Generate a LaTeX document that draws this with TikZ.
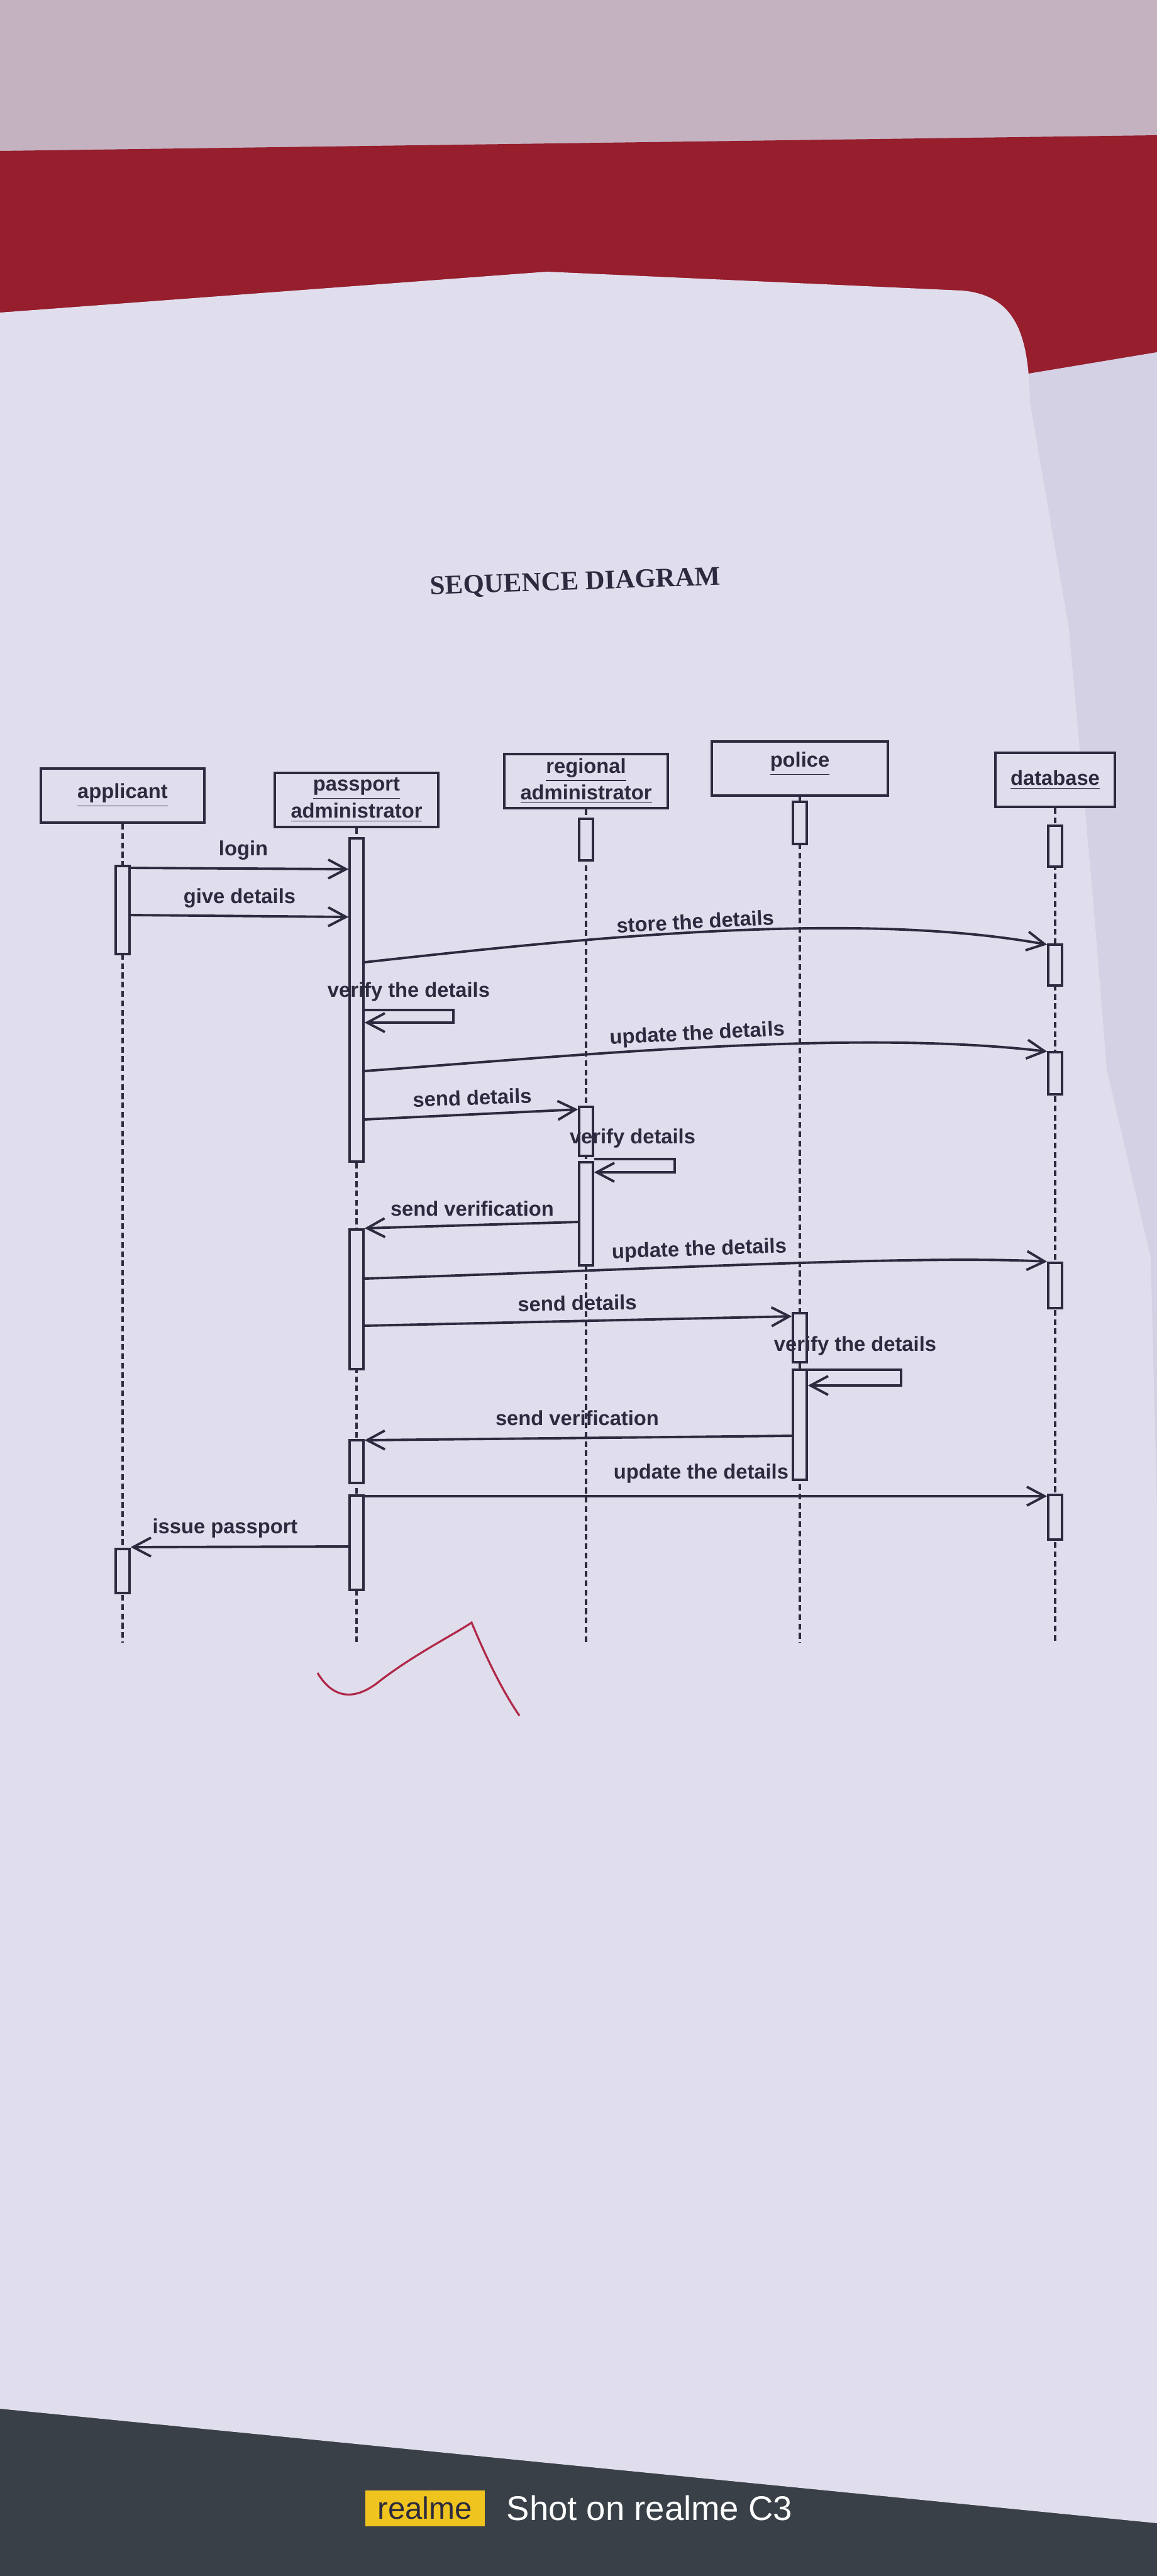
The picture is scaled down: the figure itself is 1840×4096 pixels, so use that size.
\documentclass[tikz,border=0pt]{standalone}
\usepackage{fontspec}
\setmainfont{Liberation Sans}
\newfontfamily\titlefont{Liberation Serif}
\usetikzlibrary{arrows.meta,fit}
\definecolor{paper}{RGB}{224,221,236}
\definecolor{sheet}{RGB}{212,209,228}
\definecolor{ink}{RGB}{44,42,62}
\definecolor{bag}{RGB}{150,30,45}
\definecolor{curtain}{RGB}{196,178,192}
\definecolor{floor}{RGB}{58,64,72}
\definecolor{pen}{RGB}{176,40,72}
\definecolor{realmey}{RGB}{240,196,30}
\newcommand{\actbar}[4]{\node[bar, fit={(#2-11,#3) (#2+11,#4)}] (#1) {};}

\begin{document}
\begin{tikzpicture}[x=0.01cm, y=-0.01cm,
    head/.style={draw=ink, line width=1.2pt, fill=paper, text=ink, minimum width=2.6cm,
      minimum height=0.86cm, align=center, inner sep=1pt, font=\bfseries\fontsize{9.3}{12}\selectfont},
    bar/.style={draw=ink, line width=1pt, fill=paper, inner sep=0pt},
    life/.style={draw=ink, line width=1pt, dash pattern=on 2.6pt off 1.6pt},
    msg/.style={draw=ink, line width=1.1pt, -{Straight Barb[length=8pt, width=8.5pt, line width=1.1pt]}},
    txt/.style={text=ink, inner sep=1pt, font=\bfseries\fontsize{9.3}{12}\selectfont},
    redpen/.style={draw=pen, line width=0.9pt}]
    \useasboundingbox (0,0) rectangle (1840,4096);
    \fill[curtain] (0,0) rectangle (1840,260);
    \fill[bag] (0,240) -- (1840,215) -- (1840,700) -- (0,700) -- cycle;
    \fill[sheet] (1600,600) -- (1840,560) -- (1840,2600) -- (1600,2600) -- cycle;
    \fill[floor] (0,3700) rectangle (1840,4096);
    \fill[paper] (0,497) -- (870,432) -- (1530,462) .. controls (1620,470) and (1636,540) .. (1638,640)
      -- (1700,1000) -- (1740,1450) -- (1760,1700) -- (1830,2000) -- (1840,2400)
      -- (1840,4012) -- (0,3830) -- cycle;

    \node[text=ink, font=\titlefont\bfseries\fontsize{12.2}{14}\selectfont, rotate=2] (title) at (915,927) {SEQUENCE DIAGRAM};

    \node[head] (app) at (195,1265) {\underline{applicant}};
    \node[head] (padm) at (567,1272) {\underline{passport}\\\underline{administrator}};
    \node[head] (radm) at (932,1242) {\underline{regional}\\\underline{administrator}};
    \node[head, minimum width=2.8cm] (pol) at (1272,1222) {\underline{police}\\[-4pt]\mbox{}};
    \node[head, minimum width=1.9cm] (db) at (1678,1240) {\underline{database}};
    \foreach \h in {app,padm,radm,pol,db}
      \draw[life] (\h.south) -- (\h.south |- 0,2612);

    \actbar{bA1}{195}{1377}{1517}
    \actbar{bA2}{195}{2463}{2533}
    \actbar{bP1}{567}{1333}{1847}
    \actbar{bP2}{567}{1955}{2177}
    \actbar{bP3}{567}{2290}{2358}
    \actbar{bP4}{567}{2378}{2528}
    \actbar{bR0}{932}{1302}{1368}
    \actbar{bR1}{932}{1760}{1838}
    \actbar{bR2}{932}{1848}{2012}
    \actbar{bL0}{1272}{1275}{1342}
    \actbar{bL1}{1272}{2088}{2166}
    \actbar{bL2}{1272}{2178}{2353}
    \actbar{bD0}{1678}{1313}{1378}
    \actbar{bD1}{1678}{1502}{1567}
    \actbar{bD2}{1678}{1673}{1740}
    \actbar{bD3}{1678}{2008}{2080}
    \actbar{bD4}{1678}{2377}{2448}

    \draw[msg] (bA1.east |- 0,1380) -- (bP1.west |- 0,1382);
    \node[txt] (mLogin) at (387,1352) {login};
    \draw[msg] (bA1.east |- 0,1455) -- (bP1.west |- 0,1458);
    \node[txt] (mGive) at (381,1428) {give details};
    \draw[msg] (bP1.east |- 0,1530) .. controls (900,1495) and (1350,1445) .. (bD1.west |- 0,1502);
    \node[txt, rotate=3] (mStore) at (1106,1465) {store the details};
    \draw[msg] (bP1.east |- 0,1606) -- ++(141,0) -- ++(0,20) -- (bP1.east |- 0,1626);
    \node[txt] (mVerA) at (650,1577) {verify the details};
    \draw[msg] (bP1.east |- 0,1703) .. controls (900,1680) and (1350,1635) .. (bD2.west |- 0,1672);
    \node[txt, rotate=3] (mUpdA) at (1109,1645) {update the details};
    \draw[msg] (bP1.east |- 0,1780) -- (bR1.west |- 0,1764);
    \node[txt, rotate=2] (mSendA) at (751,1745) {send details};
    \draw[msg] (bR2.east |- 0,1843) -- ++(128,0) -- ++(0,21) -- (bR2.east |- 0,1864);
    \node[txt] (mVerB) at (1006,1810) {verify details};
    \draw[msg] (bR2.west |- 0,1943) -- (bP2.east |- 0,1953);
    \node[txt] (mVrfA) at (751,1922) {send verification};
    \draw[msg] (bP2.east |- 0,2033) .. controls (1000,2020) and (1450,1995) .. (bD3.west |- 0,2006);
    \node[txt, rotate=2] (mUpdB) at (1112,1988) {update the details};
    \draw[msg] (bP2.east |- 0,2108) -- (bL1.west |- 0,2093);
    \node[txt, rotate=1] (mSendB) at (918,2072) {send details};
    \draw[msg] (bL2.east |- 0,2178) -- ++(148,0) -- ++(0,25) -- (bL2.east |- 0,2203);
    \node[txt] (mVerC) at (1360,2140) {verify the details};
    \draw[msg] (bL2.west |- 0,2283) -- (bP3.east |- 0,2290);
    \node[txt] (mVrfB) at (918,2255) {send verification};
    \draw[msg] (bP4.east |- 0,2379) -- (bD4.west |- 0,2379);
    \node[txt] (mUpdC) at (1115,2343) {update the details};
    \draw[msg] (bP4.west |- 0,2459) -- (bA2.east |- 0,2460);
    \node[txt] (mIssue) at (358,2430) {issue passport};

    \draw[redpen] (505,2660) .. controls (530,2702) and (565,2705) .. (605,2672)
      .. controls (660,2630) and (720,2600) .. (750,2580)
      .. controls (775,2640) and (800,2690) .. (826,2728);

    \node[fill=realmey, text=ink, minimum width=1.9cm, minimum height=0.57cm, inner sep=0pt,
      font=\fontsize{14}{16}\selectfont] (wmLogo) at (676,3988) {realme};
    \node[text=white, anchor=west, inner sep=0pt, font=\fontsize{15.5}{18}\selectfont] (wmText) at (805,3988) {Shot on realme C3};
\end{tikzpicture}
\end{document}
